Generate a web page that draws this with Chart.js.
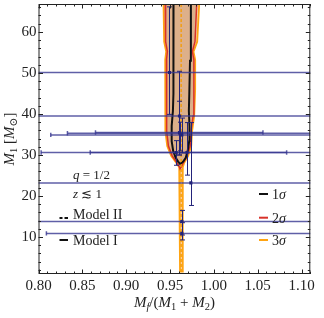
<!DOCTYPE html>
<html><head><meta charset="utf-8">
<script src="https://cdn.jsdelivr.net/npm/chart.js@4"></script>
<style>html,body{margin:0;padding:0;background:#fff}canvas{display:block}</style>
</head><body>
<canvas id="c" width="324" height="318"></canvas>
<script>
// ---- tick labels ----
const xTicks = [0.80, 0.85, 0.90, 0.95, 1.00, 1.05, 1.10];
const yTicks = [10, 20, 30, 40, 50, 60];

// ---- contours (y level, left x, right x) ----
const sig3Y = [68, 57.6, 55.2, 53.2, 46, 39.5, 35.8, 32.2, 29.8, 28.1, 27.0, 24.0, 10.0, 1.6];
const sig3L = [0.9425, 0.9433, 0.9456, 0.9445, 0.9445, 0.9445, 0.9450, 0.9468, 0.9513, 0.9571, 0.9605, 0.9610, 0.9612, 0.9614];
const sig3R = [0.9836, 0.9810, 0.9768, 0.9787, 0.9787, 0.9776, 0.9752, 0.9742, 0.9707, 0.9662, 0.9643, 0.9648, 0.9646, 0.9644];

const sig2Y = [68, 57.6, 55.2, 53.2, 46, 39.5, 35.8, 32.2, 29.8, 28.1, 27.2, 26.6];
const sig2L = [0.9445, 0.9450, 0.9470, 0.9460, 0.9460, 0.9460, 0.9465, 0.9482, 0.9525, 0.9580, 0.9605, 0.9615];
const sig2R = [0.9807, 0.9785, 0.9755, 0.9772, 0.9772, 0.9763, 0.9740, 0.9730, 0.9695, 0.9652, 0.9632, 0.9625];

const sig1Y = [68, 53, 45, 40.7, 37.1, 33.4, 31.0, 29.3, 28.4, 27.8];
const sig1L = [0.9540, 0.9540, 0.9538, 0.9533, 0.9519, 0.9519, 0.9536, 0.9565, 0.9593, 0.9617];
const sig1R = [0.9738, 0.9728, 0.9720, 0.9715, 0.9722, 0.9719, 0.9702, 0.9679, 0.9650, 0.9621];

const medianX = 0.9627;
const medianY = [68, 1.6];

// ---- measurements with error bars ----
const ptX   = [0.9494, 0.9608, 0.9608, 0.9612, 0.9635, 0.9570, 0.9693, 0.9738, 0.9635, 0.9635];
const ptY   = [50.1, 39.5, 35.5, 35.3, 34.9, 30.6, 30.6, 23.2, 13.8, 10.9];
const ptYlo = [39.9, 30.0, 30.0, 31.0, 30.5, 27.5, 25.1, 17.7, 10.5, 9.3];
const ptYhi = [66.1, 50.4, 43.1, 38.0, 39.0, 33.5, 37.9, 37.9, 16.5, 13.5];
const ptXlo = [0.70, 0.70, 0.865, 0.833, 0.814, 0.803, 0.859, 0.70, 0.70, 0.809];
const ptXhi = [1.20, 1.20, 1.056, 1.20, 1.20, 1.20, 1.083, 1.20, 1.20, 1.20];

const SERIF = '"Liberation Serif", "DejaVu Serif", serif';
const ORANGE = '#ffa412', RED = '#d8322a', NAVY = '#23237a';

function poly(Y, L, R) {
  const pts = [];
  for (let i = 0; i < Y.length; i++) pts.push({x: L[i], y: Y[i]});
  for (let i = Y.length - 1; i >= 0; i--) pts.push({x: R[i], y: Y[i]});
  pts.push({x: L[0], y: Y[0]});
  return pts;
}

function rich(ctx, parts, x, y, size, align) {
  const fontFor = p => (p.it ? 'italic ' : '') + (p.sub ? size * 0.7 : size) + 'px ' + SERIF;
  let w = 0;
  parts.forEach(p => { ctx.font = fontFor(p); p.w = ctx.measureText(p.t).width; w += p.w; });
  let cx = align === 'center' ? x - w / 2 : (align === 'right' ? x - w : x);
  ctx.textBaseline = 'alphabetic';
  ctx.textAlign = 'left';
  parts.forEach(p => { ctx.font = fontFor(p); ctx.fillText(p.t, cx, y + (p.sub ? size * 0.22 : 0)); cx += p.w; });
}

const errorBars = {
  id: 'errorBars',
  beforeDatasetDraw(chart, args) {
    if (args.index !== 4) return;
    const {ctx, chartArea: ca} = chart;
    const xs = chart.scales.x, ys = chart.scales.y;
    ctx.save();
    ctx.beginPath(); ctx.rect(ca.left, ca.top, ca.right - ca.left, ca.bottom - ca.top); ctx.clip();
    ctx.strokeStyle = 'rgba(55,55,145,0.8)';
    ctx.lineWidth = 1.5;
    for (let i = 0; i < ptX.length; i++) {
      const py = ys.getPixelForValue(ptY[i]);
      const x1 = xs.getPixelForValue(ptXlo[i]), x2 = xs.getPixelForValue(ptXhi[i]);
      ctx.beginPath(); ctx.moveTo(x1, py); ctx.lineTo(x2, py); ctx.stroke();
      ctx.beginPath();
      ctx.moveTo(x1, py - 2.2); ctx.lineTo(x1, py + 2.2);
      ctx.moveTo(x2, py - 2.2); ctx.lineTo(x2, py + 2.2);
      ctx.stroke();
    }
    ctx.strokeStyle = NAVY;
    ctx.lineWidth = 1;
    for (let i = 0; i < ptX.length; i++) {
      const px = Math.round(xs.getPixelForValue(ptX[i])) + 0.5;
      const y1 = ys.getPixelForValue(ptYlo[i]), y2 = ys.getPixelForValue(ptYhi[i]);
      ctx.beginPath();
      ctx.moveTo(px, y1); ctx.lineTo(px, y2);
      ctx.moveTo(px - 2.5, y1); ctx.lineTo(px + 2.5, y1);
      ctx.moveTo(px - 2.5, y2); ctx.lineTo(px + 2.5, y2);
      ctx.stroke();
    }
    ctx.restore();
  }
};

const frameAndText = {
  id: 'frameAndText',
  afterDraw(chart) {
    const {ctx, chartArea: ca} = chart;
    const xs = chart.scales.x, ys = chart.scales.y;
    ctx.save();
    ctx.strokeStyle = '#222'; ctx.lineWidth = 1;
    ctx.strokeRect(ca.left + 0.5, ca.top + 0.5, ca.right - ca.left - 1, ca.bottom - ca.top - 1);
    ctx.beginPath();
    const xStep = 0.01, yStep = 2;
    for (let k = Math.ceil(xs.min / xStep - 1e-6); k * xStep <= xs.max + 1e-9; k++) {
      const major = k % 5 === 0, len = major ? 4.5 : 2.5;
      const px = Math.round(xs.getPixelForValue(k * xStep)) + 0.5;
      ctx.moveTo(px, ca.bottom); ctx.lineTo(px, ca.bottom - len);
      ctx.moveTo(px, ca.top); ctx.lineTo(px, ca.top + len);
    }
    for (let k = Math.ceil(ys.min / yStep); k * yStep <= ys.max; k++) {
      const major = k % 5 === 0, len = major ? 4.5 : 2.5;
      const py = Math.round(ys.getPixelForValue(k * yStep)) + 0.5;
      ctx.moveTo(ca.left, py); ctx.lineTo(ca.left + len, py);
      ctx.moveTo(ca.right, py); ctx.lineTo(ca.right - len, py);
    }
    ctx.stroke();

    ctx.fillStyle = '#222';
    rich(ctx, [{t:'M', it:true}, {t:'f', it:true, sub:true}, {t:'/('}, {t:'M', it:true}, {t:'1', sub:true},
               {t:' + '}, {t:'M', it:true}, {t:'2', sub:true}, {t:')'}],
         (ca.left + ca.right) / 2, 307, 15, 'center');
    ctx.save();
    ctx.translate(14, (ca.top + ca.bottom) / 2);
    ctx.rotate(-Math.PI / 2);
    rich(ctx, [{t:'M', it:true}, {t:'1', sub:true}, {t:' ['}, {t:'M', it:true}, {t:'\u2299', sub:true}, {t:']'}],
         0, 0, 15, 'center');
    ctx.restore();

    rich(ctx, [{t:'q', it:true}, {t:' = 1/2'}], 73, 179, 13, 'left');
    rich(ctx, [{t:'z', it:true}, {t:' \u2272 1'}], 73, 198, 13, 'left');
    rich(ctx, [{t:'Model II'}], 73, 218.5, 14, 'left');
    rich(ctx, [{t:'Model I'}], 73, 245, 14, 'left');
    ctx.lineWidth = 2; ctx.strokeStyle = '#111';
    ctx.beginPath(); ctx.moveTo(59.5, 218); ctx.lineTo(62.5, 218); ctx.moveTo(64.5, 218); ctx.lineTo(68, 218); ctx.stroke();
    ctx.beginPath(); ctx.moveTo(59.5, 240); ctx.lineTo(68, 240); ctx.stroke();

    const sig = [['1', '#111', 194], ['2', RED, 217.7], ['3', ORANGE, 240]];
    sig.forEach(([n, col, y]) => {
      ctx.strokeStyle = col; ctx.lineWidth = 2;
      ctx.beginPath(); ctx.moveTo(259, y); ctx.lineTo(268, y); ctx.stroke();
      ctx.fillStyle = '#222';
      rich(ctx, [{t:n}, {t:'\u03c3', it:true}], 272, y + 4.8, 14, 'left');
    });
    ctx.restore();
  }
};

function noPad(s) { s.paddingTop = 0; s.paddingBottom = 0; s.paddingLeft = 0; s.paddingRight = 0; }

new Chart(document.getElementById('c'), {
  type: 'scatter',
  data: {
    datasets: [
      { data: poly(sig3Y, sig3L, sig3R), showLine: true, fill: 'shape', backgroundColor: '#f8d0ae',
        borderColor: ORANGE, borderWidth: 1.8, pointRadius: 0, tension: 0, order: 5, clip: 0 },
      { data: poly(sig2Y, sig2L, sig2R), showLine: true, fill: 'shape', backgroundColor: '#ddb08a',
        borderColor: RED, borderWidth: 1.5, pointRadius: 0, tension: 0, order: 4, clip: 0 },
      { data: poly(sig1Y, sig1L, sig1R), showLine: true, fill: false,
        borderColor: '#111', borderWidth: 2, pointRadius: 0, tension: 0, order: 3, clip: 0 },
      { data: medianY.map(v => ({x: medianX, y: v})), showLine: true, fill: false, borderDash: [3, 2],
        borderColor: '#f59c00', borderWidth: 1.3, pointRadius: 0, order: 2, clip: 0 },
      { data: ptX.map((x, i) => ({x, y: ptY[i]})), showLine: false, pointStyle: 'rect', pointRadius: 2.2,
        backgroundColor: NAVY, borderColor: NAVY, borderWidth: 0, order: 1, clip: 0 }
    ]
  },
  options: {
    responsive: false, animation: false, devicePixelRatio: 1,
    layout: { padding: { top: 2, right: 13.7, left: 0, bottom: 0 } },
    plugins: { legend: { display: false }, tooltip: { enabled: false } },
    scales: {
      x: {
        type: 'linear', min: 0.8, max: 1.11,
        afterBuildTicks: s => { s.ticks = xTicks.map(v => ({value: v})); },
        afterFit: s => { s.height = 44; noPad(s); },
        ticks: { callback: v => Number(v).toFixed(2), font: { family: SERIF, size: 15 }, color: '#222',
                 padding: 3, maxRotation: 0, autoSkip: false },
        grid: { display: false, drawTicks: false }, border: { display: false }
      },
      y: {
        type: 'linear', min: 1, max: 66.8,
        afterBuildTicks: s => { s.ticks = yTicks.map(v => ({value: v})); },
        afterFit: s => { s.width = 38.5; noPad(s); },
        ticks: { callback: v => String(v), font: { family: SERIF, size: 15 }, color: '#222', padding: 2, autoSkip: false },
        grid: { display: false, drawTicks: false }, border: { display: false }
      }
    }
  },
  plugins: [errorBars, frameAndText]
});
</script>
</body></html>
